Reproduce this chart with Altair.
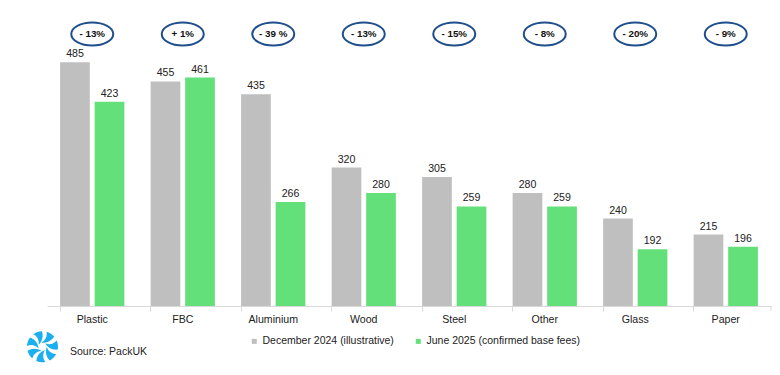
import math
import altair as alt
import pandas as pd

categories = ["Plastic", "FBC", "Aluminium", "Wood", "Steel", "Other", "Glass", "Paper"]
dec2024 = [485, 455, 435, 320, 305, 280, 240, 215]
jun2025 = [423, 461, 266, 280, 259, 259, 192, 196]
changes = ["- 13%", "+ 1%", "- 39 %", "- 13%", "- 15%", "- 8%", "- 20%", "- 9%"]
series_names = ["December 2024 (illustrative)", "June 2025 (confirmed base fees)"]
series_colors = ["#BFBFBF", "#63E07A"]
source_text = "Source: PackUK"

W, H = 724, 298
Y_MIN, Y_MAX = 103, 570
FONT = "Liberation Sans"

rows = []
for c, a, b in zip(categories, dec2024, jun2025):
    rows.append({"cat": c, "series": series_names[0], "value": a})
    rows.append({"cat": c, "series": series_names[1], "value": b})
df = pd.DataFrame(rows)
df_change = pd.DataFrame({"cat": categories, "change": changes})
one = pd.DataFrame({"a": [0]})

xenc = alt.X("cat:N", sort=categories, title=None,
             scale=alt.Scale(paddingInner=0.29, paddingOuter=0.145),
             axis=alt.Axis(domainColor="#D9D9D9", tickColor="#D9D9D9", tickSize=5,
                           bandPosition=0, labelAngle=0, labelFontSize=10.6,
                           labelColor="#222222", labelPadding=3, labelFont=FONT,
                           grid=False))
yscale = alt.Scale(domain=[Y_MIN, Y_MAX], zero=False, nice=False)
xoff = alt.XOffset("series:N", sort=series_names,
                   scale=alt.Scale(paddingInner=0.14, paddingOuter=0))

bars = alt.Chart(df).mark_bar(clip=True).encode(
    x=xenc,
    xOffset=xoff,
    y=alt.Y("value:Q", scale=yscale, axis=None, stack=None),
    y2=alt.datum(Y_MIN),
    color=alt.Color("series:N", sort=series_names,
                    scale=alt.Scale(domain=series_names, range=series_colors),
                    legend=alt.Legend(orient="none", legendX=202, legendY=328,
                                      direction="horizontal", title=None,
                                      symbolType="square", symbolSize=25,
                                      symbolStrokeWidth=0,
                                      labelFontSize=10.5, labelFont=FONT,
                                      labelColor="#222222", columnPadding=19,
                                      labelLimit=400, padding=0,
                                      labelOffset=3)),
)

labels = alt.Chart(df).mark_text(baseline="alphabetic", dy=-5, fontSize=10.6,
                                 font=FONT, color="#222222").encode(
    x=alt.X("cat:N", sort=categories),
    xOffset=alt.XOffset("series:N", sort=series_names),
    y=alt.Y("value:Q", scale=yscale),
    text=alt.Text("value:Q"),
)

ellipse_path = "M -1 0 A 1 0.55 0 1 1 1 0 A 1 0.55 0 1 1 -1 0 Z"
ellipses = alt.Chart(df_change).mark_point(
    shape=ellipse_path, size=42 * 42, filled=False, fill="white", fillOpacity=1,
    stroke="#1F4E8C", strokeWidth=2, opacity=1,
).encode(x=alt.X("cat:N", sort=categories), y=alt.value(26))

change_text = alt.Chart(df_change).mark_text(
    fontSize=9.8, fontWeight="bold", font=FONT, color="#111111", baseline="middle"
).encode(x=alt.X("cat:N", sort=categories), y=alt.value(26), text="change:N")

end_tick = alt.Chart(one).mark_rule(color="#D9D9D9").encode(
    x=alt.value(W), y=alt.value(H), y2=alt.value(H + 5))

source = alt.Chart(one).mark_text(
    align="left", baseline="middle", fontSize=10.5, font=FONT, color="#222222",
    text=source_text,
).encode(x=alt.value(23), y=alt.value(344))


# pinwheel logo as a custom symbol path (7 swirling blades)
def pt(r, deg):
    t = math.radians(deg)
    return f"{r * math.cos(t):.3f} {r * math.sin(t):.3f}"


parts = []
n_blades = 7
for k in range(n_blades):
    a = k * 360 / n_blades
    parts.append(
        f"M {pt(0.28, a)} A 0.62 0.62 0 0 0 {pt(1.0, a + 28)} "
        f"A 1 1 0 0 1 {pt(1.0, a + 62)} A 0.8 0.8 0 0 1 {pt(0.28, a)} Z")
logo_path = " ".join(parts)
logo = alt.Chart(one).mark_point(
    shape=logo_path, size=31 * 31, filled=True, color="#1AAFEF", opacity=1,
    strokeWidth=0,
).encode(x=alt.value(-4.5), y=alt.value(338.7))

chart = alt.layer(bars, labels, ellipses, change_text, end_tick, source, logo).properties(
    width=W, height=H,
    padding={"left": 39, "top": 0, "right": 1, "bottom": 61},
    autosize="none",
).configure(font=FONT).configure_view(stroke=None).configure_legend(
    symbolType="square")

chart.save("out.html", embed_options={"renderer": "svg", "actions": False})
